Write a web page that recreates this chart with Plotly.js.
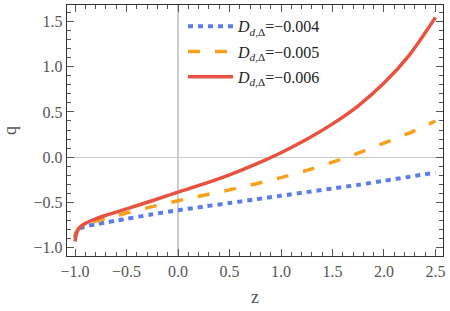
<!DOCTYPE html>
<html>
<head>
<meta charset="utf-8">
<script src="https://cdn.plot.ly/plotly-3.0.1.min.js"></script>
<style>html,body{margin:0;padding:0;background:#fff;}#chart{width:450px;height:311px;}</style>
</head>
<body>
<div id="chart"></div>
<script>
const z = [-1.0, -0.99, -0.97, -0.95, -0.9, -0.8, -0.7, -0.6, -0.5, -0.25, 0, 0.25, 0.5, 0.75, 1.0, 1.25, 1.5, 1.75, 2.0, 2.25, 2.5];
const qBlue = [-0.88, -0.83, -0.80, -0.785, -0.765, -0.74, -0.72, -0.70, -0.68, -0.63, -0.585, -0.545, -0.505, -0.465, -0.425, -0.385, -0.345, -0.305, -0.26, -0.215, -0.17];
const qOrange = [-0.90, -0.84, -0.79, -0.77, -0.74, -0.705, -0.675, -0.645, -0.615, -0.545, -0.48, -0.42, -0.36, -0.295, -0.225, -0.145, -0.055, 0.045, 0.155, 0.27, 0.40];
const qRed = [-0.93, -0.86, -0.80, -0.77, -0.73, -0.68, -0.64, -0.605, -0.57, -0.48, -0.385, -0.295, -0.195, -0.08, 0.05, 0.198, 0.368, 0.568, 0.818, 1.133, 1.543];
const seriesNames = ['<i>D</i><sub><i>d</i>,Δ</sub>=−0.004', '<i>D</i><sub><i>d</i>,Δ</sub>=−0.005', '<i>D</i><sub><i>d</i>,Δ</sub>=−0.006'];
const xTicks = [-1.0, -0.5, 0.0, 0.5, 1.0, 1.5, 2.0, 2.5];
const yTicks = [-1.0, -0.5, 0.0, 0.5, 1.0, 1.5];

const SERIF = 'Liberation Serif, Times New Roman, serif';
const traces = [
  {x: z, y: qBlue, name: seriesNames[0], legendgroup: 'a', mode: 'lines', line: {color: '#5b7fe6', width: 4, dash: '5px,5px', shape: 'spline', smoothing: 0.8}},
  {x: z, y: qOrange, name: seriesNames[1], legendgroup: 'b', mode: 'lines', line: {color: '#f7a01c', width: 3.5, dash: '12px,15px', shape: 'spline', smoothing: 0.8}},
  {x: z, y: qRed, name: seriesNames[2], legendgroup: 'c', mode: 'lines', line: {color: '#e8523f', width: 3.5, shape: 'spline', smoothing: 0.8}}
];

const tickFont = {family: SERIF, size: 16, color: '#555'};
const axisCommon = {
  showgrid: false, zeroline: true, zerolinecolor: '#cccccc', zerolinewidth: 1.2,
  showline: true, linecolor: '#333', linewidth: 1.3, mirror: 'allticks',
  ticks: 'inside', ticklen: 7, tickcolor: '#555', tickwidth: 1,
  tickfont: tickFont, tickformat: '.1f',
  minor: {dtick: 0.1, ticks: 'inside', ticklen: 4, tickcolor: '#555', tickwidth: 1, showgrid: false}
};

const layout = {
  width: 450, height: 311,
  margin: {l: 67, r: 7, t: 5, b: 55},
  paper_bgcolor: '#fff', plot_bgcolor: '#fff',
  font: {family: SERIF},
  showlegend: true,
  legend: {x: 0.3085, y: 0.983, xanchor: 'left', yanchor: 'top', bgcolor: 'rgba(0,0,0,0)',
           font: {family: SERIF, size: 16, color: '#222'},
           traceorder: 'grouped', tracegroupgap: 1.5, itemwidth: 45},
  xaxis: Object.assign({}, axisCommon, {range: [-1.078, 2.573], tickvals: xTicks,
    title: {text: 'z', font: {family: SERIF, size: 18, color: '#555'}, standoff: 12}}),
  yaxis: Object.assign({}, axisCommon, {range: [-1.09, 1.68], tickvals: yTicks,
    title: {text: 'q', font: {family: SERIF, size: 18, color: '#555'}, standoff: 12}})
};

Plotly.newPlot('chart', traces, layout, {staticPlot: true, displayModeBar: false});
</script>
</body>
</html>
